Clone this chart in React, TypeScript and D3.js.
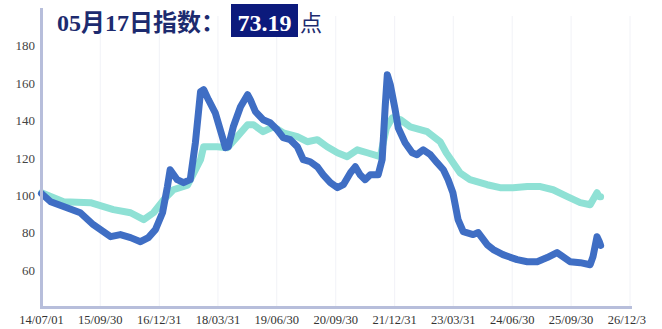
import React from "react";
import * as d3 from "d3";

// Dark-blue series (index), date / value
const blueDates = [
  "2014-07-01", "2014-09-10", "2014-12-19", "2015-04-28", "2015-08-07", "2015-12-19",
  "2016-03-04", "2016-05-22", "2016-08-07", "2016-10-07", "2016-12-01", "2017-01-25",
  "2017-03-04", "2017-03-25", "2017-05-19", "2017-07-07", "2017-08-28", "2017-10-07",
  "2017-11-16", "2017-12-10", "2018-01-16", "2018-03-10", "2018-05-04", "2018-05-28",
  "2018-06-19", "2018-07-28", "2018-09-22", "2018-11-16", "2018-12-07", "2019-01-16",
  "2019-03-16", "2019-05-10", "2019-07-04", "2019-08-19", "2019-10-13", "2019-12-07",
  "2020-01-22", "2020-03-16", "2020-05-10", "2020-06-25", "2020-08-19", "2020-10-13",
  "2020-11-28", "2021-01-22", "2021-03-01", "2021-04-07", "2021-05-16", "2021-06-25",
  "2021-08-25", "2021-09-25", "2021-10-19", "2021-11-04", "2021-11-28", "2022-01-04",
  "2022-01-28", "2022-03-22", "2022-05-16", "2022-06-22", "2022-08-10", "2022-10-04",
  "2022-11-25", "2023-01-13", "2023-02-19", "2023-03-28", "2023-05-07", "2023-06-16",
  "2023-09-01", "2023-10-10", "2023-12-19", "2024-02-04", "2024-04-19", "2024-08-07",
  "2024-10-25", "2025-01-10", "2025-03-28", "2025-06-13", "2025-07-28", "2025-09-22",
  "2025-12-10", "2026-02-25", "2026-03-19", "2026-04-19", "2026-05-07", "2026-05-17",
];
const blueValues = [
  101.0, 96.6, 94.0, 90.7, 84.3, 77.9,
  79.0, 77.4, 75.2, 77.4, 81.7, 90.7,
  104.7, 113.7, 108.4, 106.8, 108.4, 128.2,
  155.5, 156.6, 151.2, 144.2, 131.4, 125.5,
  126.0, 136.7, 147.4, 153.9, 151.2, 144.8,
  140.5, 138.9, 135.1, 130.9, 129.8, 126.0,
  119.1, 118.0, 115.3, 111.0, 106.8, 104.1,
  105.7, 112.1, 115.3, 111.0, 108.4, 111.0,
  111.0, 119.1, 148.0, 164.5, 159.0, 145.8,
  136.0, 128.2, 122.8, 121.8, 124.4, 121.8,
  117.5, 113.7, 108.4, 101.4, 87.0, 80.6,
  79.0, 80.1, 73.6, 71.0, 68.3, 65.6,
  64.5, 64.5, 66.7, 69.4, 67.2, 64.5,
  64.0, 62.9, 67.2, 77.9, 75.2, 73.19,
];

// Teal series, date / value
const tealDates = [
  "2014-07-01", "2014-12-19", "2015-07-16", "2016-01-10", "2016-05-22", "2016-09-01",
  "2016-11-16", "2017-02-04", "2017-04-19", "2017-08-07", "2017-11-16", "2017-12-10",
  "2018-03-25", "2018-06-13", "2018-08-28", "2018-11-16", "2019-01-01", "2019-03-16",
  "2019-06-04", "2019-08-19", "2019-12-07", "2020-02-22", "2020-05-10", "2020-07-25",
  "2020-10-13", "2020-12-28", "2021-03-16", "2021-06-01", "2021-09-10", "2021-10-28",
  "2021-12-13", "2022-02-13", "2022-05-01", "2022-09-10", "2022-12-19", "2023-02-04",
  "2023-05-22", "2023-08-07", "2023-12-19", "2024-03-28", "2024-07-07", "2024-10-25",
  "2025-02-04", "2025-05-13", "2025-09-01", "2025-12-10", "2026-02-25", "2026-03-19",
  "2026-04-19", "2026-05-07", "2026-05-17",
];
const tealValues = [
  101.4, 96.6, 96.1, 92.4, 90.7, 87.0,
  90.7, 97.7, 103.0, 105.5, 119.1, 126.0,
  126.0, 125.5, 131.4, 137.8, 137.8, 134.1,
  136.7, 133.5, 131.4, 128.7, 129.8, 126.0,
  122.8, 120.7, 124.4, 122.8, 120.7, 136.0,
  141.5, 140.5, 136.7, 134.1, 128.7, 122.8,
  112.1, 108.4, 105.7, 104.1, 104.1, 104.7,
  104.7, 103.0, 99.3, 96.1, 95.0, 97.7,
  101.4, 99.3, 99.3,
];

const xTickLabels = [
  "14/07/01", "15/09/30", "16/12/31", "18/03/31", "19/06/30", "20/09/30",
  "21/12/31", "23/03/31", "24/06/30", "25/09/30", "26/12/31",
];
const yTicks = [60, 80, 100, 120, 140, 160, 180];
const titleDate = "05月17日";

const W = 662;
const H = 329;
const parseDay = d3.timeParse("%Y-%m-%d");
const parseTick = d3.timeParse("%y/%m/%d");

export default function App() {
  const x = d3
    .scaleTime()
    .domain([parseDay("2014-07-01")!, parseDay("2026-12-31")!])
    .range([41.5, 630]);
  const y = d3.scaleLinear().domain([40, 200]).range([307.5, 8.5]);

  const line = d3
    .line<[Date, number]>()
    .x((d) => x(d[0]))
    .y((d) => y(d[1]))
    .curve(d3.curveLinear);

  const blue: [Date, number][] = blueDates.map((d, i) => [parseDay(d)!, blueValues[i]]);
  const teal: [Date, number][] = tealDates.map((d, i) => [parseDay(d)!, tealValues[i]]);
  const last = blueValues[blueValues.length - 1];

  const xTicks = xTickLabels.map((t) => ({ label: t, pos: x(parseTick(t) ?? parseDay("2026-12-31")!) }));
  const axisBottom = y(40);

  return (
    <svg
      width={W}
      height={H}
      style={{ position: "fixed", left: 0, top: 0, background: "#fff" }}
      fontFamily="'Liberation Serif', 'Noto Sans CJK SC', serif"
    >
      <defs>
        <clipPath id="labelClip">
          <rect x={0} y={0} width={646} height={H} />
        </clipPath>
      </defs>

      {/* faint vertical grid */}
      {xTicks.map((t) => (
        <line
          key={"g" + t.label}
          x1={t.pos}
          x2={t.pos}
          y1={y(196)}
          y2={axisBottom}
          stroke="#f1f2f7"
          strokeWidth={1}
        />
      ))}

      {/* series */}
      <path
        d={line(teal) ?? ""}
        fill="none"
        stroke="#8fe1d5"
        strokeWidth={7}
        strokeLinejoin="round"
        strokeLinecap="round"
      />
      <path
        d={line(blue) ?? ""}
        fill="none"
        stroke="#3f6ec4"
        strokeWidth={7}
        strokeLinejoin="round"
        strokeLinecap="round"
      />

      {/* axes */}
      <line x1={41.5} x2={41.5} y1={8} y2={axisBottom} stroke="#b7bedb" strokeWidth={3} />
      <line x1={40} x2={632} y1={axisBottom} y2={axisBottom} stroke="#b7bedb" strokeWidth={3} />

      {yTicks.map((v) => (
        <text
          key={"y" + v}
          x={35}
          y={y(v)}
          dy="0.35em"
          textAnchor="end"
          fontSize={13}
          fill="#444"
        >
          {v}
        </text>
      ))}

      <g clipPath="url(#labelClip)">
        {xTicks.map((t) => (
          <text
            key={"x" + t.label}
            x={t.pos}
            y={324}
            textAnchor="middle"
            fontSize={12.5}
            fill="#333"
          >
            {t.label}
          </text>
        ))}
      </g>

      {/* title */}
      <text x={57} y={31} fontSize={24} fontWeight="bold" fill="#1d2b6f">
        {titleDate + "指数："}
      </text>
      <rect x={231} y={4} width={67} height={33} fill="#0c1a7c" />
      <text x={264.5} y={31} fontSize={24} fontWeight="bold" fill="#fff" textAnchor="middle">
        {last.toFixed(2)}
      </text>
      <text x={300} y={31} fontSize={22} fill="#1d2b6f">
        点
      </text>
    </svg>
  );
}
